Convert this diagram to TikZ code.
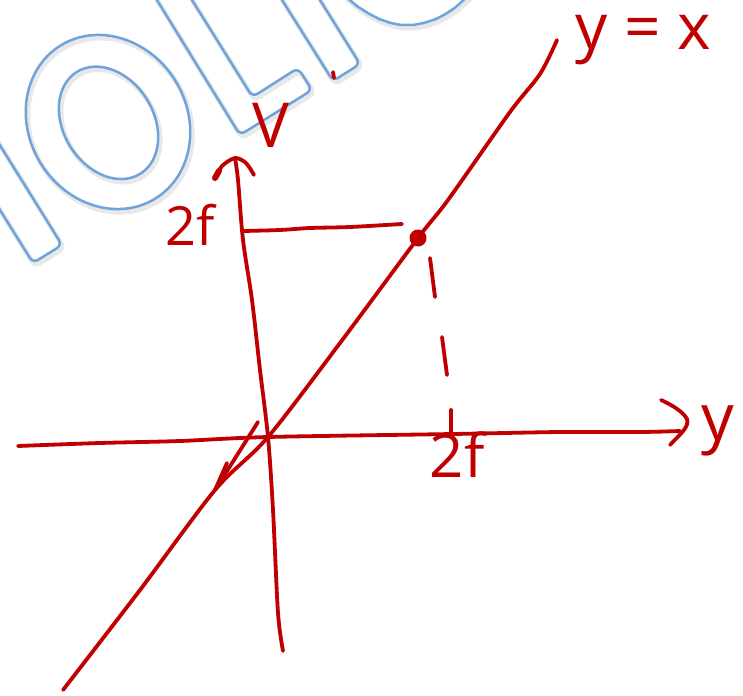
\documentclass[tikz,border=0pt]{standalone}
\usepackage{fontspec}
\setmainfont{Open Sans}
\definecolor{ink}{HTML}{C00000}
\definecolor{wm}{HTML}{6FA3DC}
\newcommand\wmshapes[1]{%
  % left I (partial)
  \draw[#1] (-22,110) -- (62,245) -- (33,263) -- (-20,178);
  % O
  \draw[#1,rotate around={32:(108,122)}] (108,122) ellipse [x radius=79, y radius=90];
  \draw[#1,rotate around={32:(108,122)}] (108,123) ellipse [x radius=45, y radius=60];
  % L
  \draw[#1] (149.5,-12) -- (240,135) -- (312,90) -- (298,68) -- (252.5,97) -- (184.5,-12);
  % I
  \draw[#1] (274.5,-12) -- (333,81) -- (360,64) -- (312.5,-12);
  % C (bottom of arc)
  \draw[#1] plot[smooth] coordinates {(345,-4) (363,10) (385,21) (407,25) (430,21) (450,11) (468,-4)};
}
\begin{document}
\begin{tikzpicture}[x=1pt,y=-1pt,line cap=round,line join=round,
  pen/.style={draw=ink,line width=3.8pt},
  wmline/.style={draw=wm,line width=2.5pt,rounded corners=6pt},
  wmshadow/.style={draw=black!9,line width=5pt,rounded corners=6pt,shift={(2,3)}},
  lbl/.style={text=ink,inner sep=0pt,anchor=base}]
\useasboundingbox (0,0) rectangle (743,695);
\begin{scope}
\clip (0,0) rectangle (743,695);
\wmshapes{wmshadow}
\wmshapes{wmline}
\end{scope}

% key points
\coordinate (O) at (268,437);
\coordinate (P) at (418,238);
\coordinate (xend) at (680,431);
\coordinate (xtip) at (687,419);
\coordinate (vtop) at (235,158);
\coordinate (tick) at (451,432);

% horizontal axis
\draw[pen] plot[smooth] coordinates {(18,446) (100,443) (180,441) (O) (453,434) (560,432) (640,432) (xend)};
\draw[pen] (661,400) .. controls (674,406) and (683,412) .. (xtip) .. controls (690,427) and (678,436) .. (670,445);

% vertical axis
\draw[pen] plot[smooth] coordinates {(vtop) (238,180) (243,240) (252,300) (260,370) (O) (273,510) (278,613) (283,651)};
\draw[pen] plot[smooth] coordinates {(215,178) (222,166) (vtop) (246,163) (254,175)};
\draw[draw=ink,line width=6pt] (215,178) -- (219,171);

% y = x line
\draw[pen] plot[smooth] coordinates {(63,690) (140,590) (215,490) (O) (340,343) (P) (448,200) (510,112) (540,74) (557,40)};
% arrowhead on y=x near origin
\coordinate (atip) at (215,490);
\draw[pen] (258,422) -- (atip);
\draw[pen] (227,463) -- (atip);

% guide to 2f on vertical axis
\draw[pen] plot[smooth] coordinates {(243,231) (280,230) (310,228) (350,227) (402,224)};
\fill[ink] (P) circle (8.5);
% dashed drop to 2f on horizontal axis
\draw[pen] (430,258) -- (435,297);
\draw[pen] (442,337) -- (447,375);
\draw[pen] (451,410) -- (tick);

% small red mark
\draw[draw=ink,line width=3.8pt] (333,72) -- (334,78);

% labels
\node[lbl,font=\fontsize{62}{62}\selectfont] (lV) at (271,148) {V};
\node[lbl,font=\fontsize{54}{54}\selectfont] (l2fv) at (190,245) {2f};
\node[lbl,font=\fontsize{60}{60}\selectfont] (l2fh) at (457,477) {2f};
\node[lbl,font=\fontsize{65}{65}\selectfont] (ly) at (718,440) {y};
\node[lbl,font=\fontsize{64}{64}\selectfont] (lyx) at (643,50) {y = x};
\end{tikzpicture}
\end{document}
